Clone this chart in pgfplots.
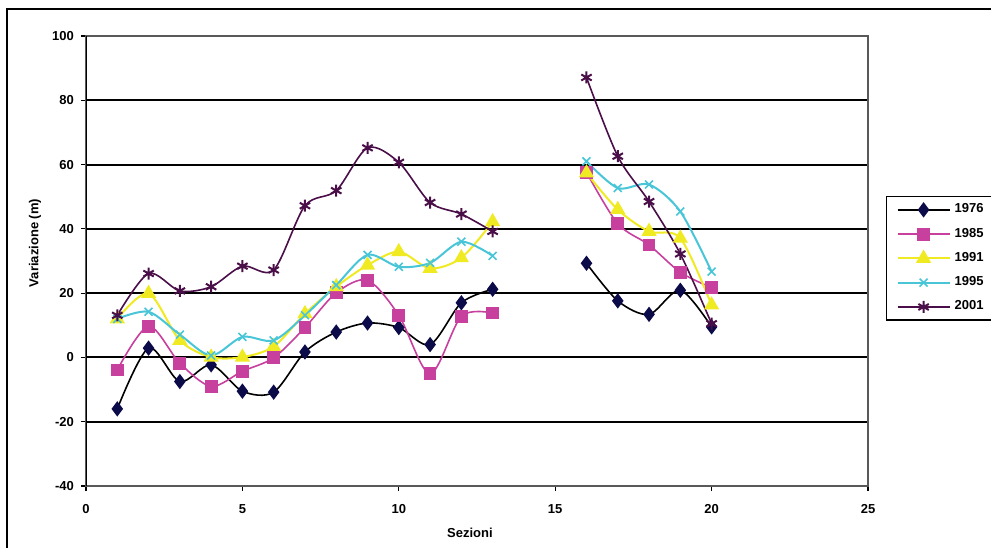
\documentclass[border=0pt]{standalone}
\usepackage{pgfplots}
\pgfplotsset{compat=1.18}
\usepackage{pgfplotstable}
\usepackage{fontspec}
\setmainfont{Liberation Sans}

\definecolor{cA}{HTML}{0B0B4A}
\definecolor{cB}{HTML}{C8409E}
\definecolor{cC}{HTML}{F0EA22}
\definecolor{cD}{HTML}{48C6D8}
\definecolor{cE}{HTML}{4A0E48}

% Variazione per sezione, anni 1976-2001 (sezioni 14-15 senza dati)
\pgfplotstableread{
x   a76    a85    a91    a95    a01
1   -16    -3.9   12     12     13.1
2   2.9    9.7    19.9   14.2   26.1
3   -7.5   -1.8   5.3    7.1    20.7
4   -2.3   -9     0.1    0.6    22
5   -10.5  -4.3   0.1    6.4    28.4
6   -10.8  -0.1   3.4    5.3    27.2
7   1.7    9.3    13.6   13.1   47.2
8   7.9    20.1   22     22.5   51.9
9   10.7   24     28.7   31.9   65.2
10  9.3    13.1   32.9   28.2   60.7
11  4      -5.1   27.7   29.4   48.2
12  17     12.8   31     36     44.6
13  21.2   13.8   42.2   31.6   39.2
14  nan    nan    nan    nan    nan
16  29.3   57.6   57.4   61     87.1
17  17.6   41.6   46     52.7   62.6
18  13.4   35     39.2   53.8   48.5
19  20.9   26.5   37.1   45.4   32.2
20  9.5    21.7   16.3   26.7   10.5
}\sezioni

\begin{document}
\begin{tikzpicture}
\useasboundingbox (0,0) rectangle (495.5pt,-273.5pt);
% cornice dell'area del grafico
\draw[line width=1pt] (3.6pt,-300pt) -- (3.6pt,-4.6pt) -- (540pt,-4.6pt);
\begin{axis}[
  at={(43pt,-18pt)}, anchor=north west,
  scale only axis, width=391pt, height=225pt,
  xmin=0, xmax=25, ymin=-40, ymax=100,
  xtick={0,5,...,25}, ytick={-40,-20,...,100},
  minor ytick={-20,0,...,80},
  yminorgrids, minor tick length=0pt,
  minor grid style={black, line width=1pt},
  axis line style={gray!70!black, line width=0.8pt},
  tick align=outside, xtick pos=bottom, ytick pos=left,
  major tick length=2.5pt,
  every tick/.style={black, line width=0.6pt},
  /pgf/number format/assume math mode=true,
  tick label style={font=\fontsize{6.5}{7}\selectfont\bfseries},
  xticklabel style={yshift=-3pt},
  label style={font=\fontsize{6.5}{7}\selectfont\bfseries},
  xlabel={Sezioni}, ylabel={Variazione (m)},
  xlabel style={at={(axis description cs:0.491,-0.104)}, anchor=center},
  ylabel style={at={(axis description cs:-0.0652,0.54)}, anchor=center},
  unbounded coords=jump,
  legend cell align=left,
  legend style={at={(rel axis cs:1.023,0.644)}, anchor=north west,
    draw=black, line width=0.6pt, inner xsep=5pt, inner ysep=1.5pt,
    row sep=2.1pt, font=\fontsize{6.5}{7}\selectfont\bfseries},
  legend image code/.code={\draw[mark repeat=2,mark phase=2,#1]
    plot coordinates {(0pt,0pt) (13pt,0pt) (26pt,0pt)};},
  every axis plot/.append style={smooth, tension=0.5, line width=0.8pt},
]
\addplot[black, mark=diamond*, mark size=3.2pt,
  mark options={fill=cA, draw=cA}] table[x=x, y=a76] {\sezioni};
\addlegendentry{1976}
\addplot[cB, mark=square*, mark size=2.8pt,
  mark options={fill=cB, draw=cB}] table[x=x, y=a85] {\sezioni};
\addlegendentry{1985}
\addplot[cC, line width=1pt, mark=triangle*, mark size=3.4pt,
  mark options={fill=cC, draw=cC}] table[x=x, y=a91] {\sezioni};
\addlegendentry{1991}
\addplot[cD, line width=1pt, mark=x, mark size=2.8pt,
  mark options={draw=cD, line width=0.8pt}] table[x=x, y=a95] {\sezioni};
\addlegendentry{1995}
\addplot[cE, mark=asterisk, mark size=3pt,
  mark options={draw=cE, line width=1pt}] table[x=x, y=a01] {\sezioni};
\addlegendentry{2001}
\draw[black, line width=1pt] (rel axis cs:0,0) -- (rel axis cs:0,1);
\end{axis}
\end{tikzpicture}
\end{document}
